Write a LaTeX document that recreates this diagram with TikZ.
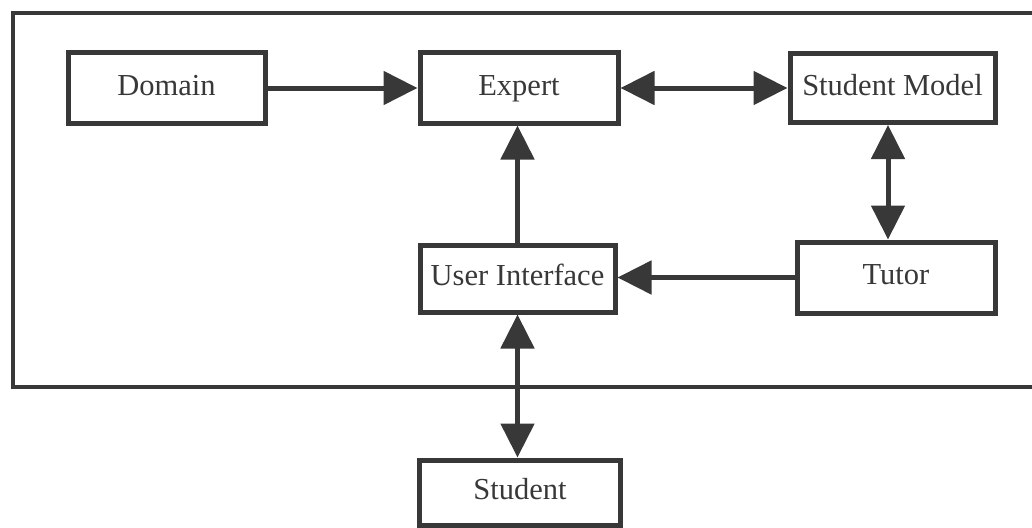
\documentclass[tikz,border=0pt]{standalone}
\usepackage{fontspec}
\setmainfont{Liberation Serif}
\usetikzlibrary{arrows.meta}
\definecolor{ink}{HTML}{383838}
\begin{document}
\begin{tikzpicture}[x=1pt,y=-1pt,
  box/.style={draw=ink,line width=5pt,rectangle,inner sep=0pt,text=ink,font=\fontsize{30.5}{36}\selectfont,text height=20pt,text depth=6pt},
  conn/.style={draw=ink,line width=5pt},
  tip/.style={-{Triangle[length=34pt,width=33pt]}},
  dtip/.style={{Triangle[length=34pt,width=33pt]}-{Triangle[length=34pt,width=33pt]}}]
\useasboundingbox (0,0) rectangle (1032,527);
% frame
\draw[ink,line width=4pt] (1032,13) -- (13,13) -- (13,387) -- (1032,387);
% nodes
\node[box,minimum width=197pt,minimum height=70pt] (dom) at (166.5,88) {Domain};
\node[box,minimum width=198pt,minimum height=70pt] (exp) at (519,88) {Expert};
\node[box,minimum width=205pt,minimum height=69pt] (sm) at (892.5,88) {Student Model};
\node[box,minimum width=195pt,minimum height=67pt] (ui) at (517.5,278.5) {User Interface};
\node[box,minimum width=198pt,minimum height=71pt] (tut) at (896,277.5) {Tutor};
\node[box,minimum width=201pt,minimum height=65pt] (stu) at (520,492.5) {Student};
% connectors
\draw[conn,tip] (dom.east) -- (dom.east -| exp.west);
\draw[conn,dtip] (exp.east) -- (exp.east -| sm.west);
\draw[conn,tip] (ui.north) -- (ui.north |- exp.south);
\path (sm.south) ++(-4.5,0) coordinate (smb);
\draw[conn,dtip] (smb) -- (smb |- tut.north);
\draw[conn,tip] (tut.west) -- (tut.west -| ui.east);
\draw[conn,dtip] (ui.south) -- (ui.south |- stu.north);
\end{tikzpicture}
\end{document}
